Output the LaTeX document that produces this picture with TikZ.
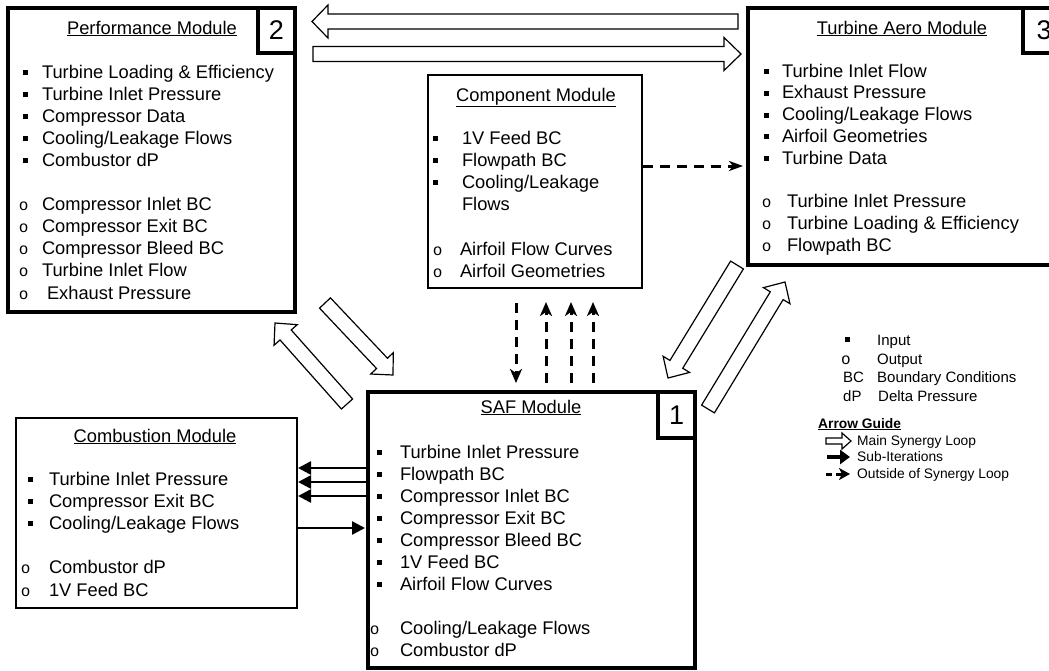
\documentclass[tikz,border=0pt]{standalone}
\usepackage{fontspec}
\setmainfont{Liberation Sans}
\newfontfamily\monof{Liberation Mono}
\usetikzlibrary{arrows.meta,calc}

\newcommand\Bu[1]{\llap{\rule[3pt]{5pt}{5pt}\hspace{#1pt}}}
\newcommand\Ci[1]{\llap{{\monof\fontsize{16pt}{16pt}\selectfont o}\hspace{#1pt}}}
% hollow block arrow: start, end, half shaft, half head, head length
\newcommand\fatarr[5]{%
  \draw[fat] let \p1=(#1), \p2=(#2), \n1={atan2(\y2-\y1,\x2-\x1)}, \n2={veclen(\x2-\x1,\y2-\y1)} in
    ($(\p1)+(\n1+90:#3pt)$)
    -- ($(\p1)+(\n1:\n2-#5pt)+(\n1+90:#3pt)$)
    -- ($(\p1)+(\n1:\n2-#5pt)+(\n1+90:#4pt)$)
    -- (\p2)
    -- ($(\p1)+(\n1:\n2-#5pt)+(\n1-90:#4pt)$)
    -- ($(\p1)+(\n1:\n2-#5pt)+(\n1-90:#3pt)$)
    -- ($(\p1)+(\n1-90:#3pt)$) -- cycle;}

\begin{document}
\begin{tikzpicture}[x=1pt,y=-1pt,
  thickbox/.style={draw, line width=4pt, inner sep=0pt, outer sep=0pt, anchor=north west},
  thinbox/.style={draw, line width=1.3pt, inner sep=0pt, outer sep=0pt, anchor=north west},
  numbox/.style={draw, line width=4pt, inner sep=0pt, outer sep=0pt, minimum width=37pt, minimum height=45pt, anchor=north west, font=\fontsize{27pt}{30pt}\selectfont},
  title/.style={anchor=base, inner sep=0pt, font=\fontsize{18.3pt}{22pt}\selectfont},
  lst/.style={anchor=base west, inner sep=0pt, outer sep=0pt},
  fat/.style={draw, fill=white, line width=1.2pt, line join=miter},
  sub/.style={line width=2.5pt, -{Triangle[length=13pt,width=13pt]}},
  outside/.style={line width=3pt, dash pattern=on 10pt off 7pt, -{Stealth[length=14pt,width=12pt,inset=4pt]}},
  leg/.style={anchor=base west, inner sep=0pt, font=\fontsize{15pt}{18pt}\selectfont},
  guide/.style={anchor=base west, inner sep=0pt, font=\fontsize{13.8pt}{16pt}\selectfont},
]
\useasboundingbox (0,0) rectangle (1049,670);
\clip (0,0) rectangle (1049,670);

% ---------- Performance Module ----------
\node[thickbox, minimum width=287pt, minimum height=304pt] (perf) at (8,8) {};
\node[numbox] (n2) at (258,8) {2};
\node[title] (perft) at (152,34) {\underline{Performance Module}};
\node[lst] (perfl) at (42,78) {\fontsize{18.3pt}{22.1pt}\selectfont
\begin{tabular}[t]{@{}l@{}}
\Bu{14}Turbine Loading \& Efficiency\\
\Bu{14}Turbine Inlet Pressure\\
\Bu{14}Compressor Data\\
\Bu{14}Cooling/Leakage Flows\\
\Bu{14}Combustor dP\\
\\
\Ci{13.5}Compressor Inlet BC\\
\Ci{13.5}Compressor Exit BC\\
\Ci{13.5}Compressor Bleed BC\\
\Ci{13.5}Turbine Inlet Flow\\
\Ci{13.5}\hspace{5pt}Exhaust Pressure
\end{tabular}};

% ---------- Turbine Aero Module ----------
\node[thickbox, minimum width=317pt, minimum height=257pt] (aero) at (748,8) {};
\node[numbox, minimum width=42pt] (n3) at (1023,8) {3};
\node[title] (aerot) at (902,34) {\underline{Turbine Aero Module}};
\node[lst] (aerol) at (782,77) {\fontsize{18.3pt}{21.8pt}\selectfont
\begin{tabular}[t]{@{}l@{}}
\Bu{13}Turbine Inlet Flow\\
\Bu{13}Exhaust Pressure\\
\Bu{13}Cooling/Leakage Flows\\
\Bu{13}Airfoil Geometries\\
\Bu{13}Turbine Data\\
\\
\Ci{10.6}\hspace{5pt}Turbine Inlet Pressure\\
\Ci{10.6}\hspace{5pt}Turbine Loading \& Efficiency\\
\Ci{10.6}\hspace{5pt}Flowpath BC
\end{tabular}};

% ---------- Component Module ----------
\node[thinbox, minimum width=214pt, minimum height=213pt] (comp) at (428,75) {};
\node[title] (compt) at (536,101) {\underline{Component Module}};
\node[lst] (compl) at (462,144) {\fontsize{18.3pt}{22.2pt}\selectfont
\begin{tabular}[t]{@{}l@{}}
\Bu{24}1V Feed BC\\
\Bu{24}Flowpath BC\\
\Bu{24}Cooling/Leakage\\
Flows\\
\\
\Ci{19.6}\hspace{-2pt}Airfoil Flow Curves\\
\Ci{19.6}\hspace{-2pt}Airfoil Geometries
\end{tabular}};

% ---------- Combustion Module ----------
\node[thinbox, minimum width=281pt, minimum height=190pt] (comb) at (16,418) {};
\node[title] (combt) at (155,442) {\underline{Combustion Module}};
\node[lst] (combl) at (49,485) {\fontsize{18.3pt}{22.2pt}\selectfont
\begin{tabular}[t]{@{}l@{}}
\Bu{16}Turbine Inlet Pressure\\
\Bu{16}Compressor Exit BC\\
\Bu{16}Cooling/Leakage Flows\\
\\
\Ci{18.6}Combustor dP\\
\Ci{18.6}1V Feed BC
\end{tabular}};

% ---------- SAF Module ----------
\node[thickbox, minimum width=327pt, minimum height=276pt] (saf) at (368,392) {};
\node[numbox, minimum height=46pt] (n1) at (658,392) {1};
\node[title] (saft) at (531,413) {\underline{SAF Module}};
\node[lst] (safl) at (400,458) {\fontsize{18.3pt}{22pt}\selectfont
\begin{tabular}[t]{@{}l@{}}
\Bu{18}Turbine Inlet Pressure\\
\Bu{18}Flowpath BC\\
\Bu{18}Compressor Inlet BC\\
\Bu{18}Compressor Exit BC\\
\Bu{18}Compressor Bleed BC\\
\Bu{18}1V Feed BC\\
\Bu{18}Airfoil Flow Curves\\
\\
\Ci{20.6}Cooling/Leakage Flows\\
\Ci{20.6}Combustor dP
\end{tabular}};

% ---------- Main synergy loop (hollow arrows) ----------
\coordinate (t1s) at (738,21.5);  \coordinate (t1e) at (312,21.5);
\coordinate (t2s) at (313,54);    \coordinate (t2e) at (741,54);
\coordinate (a3s) at (325,303);   \coordinate (a3e) at (393,375);
\coordinate (a4s) at (347,404);   \coordinate (a4e) at (275,323);
\coordinate (a5s) at (737,265);   \coordinate (a5e) at (668,378);
\coordinate (a6s) at (708,409);   \coordinate (a6e) at (785,282);
\fatarr{t1s}{t1e}{7.5}{16.5}{16}
\fatarr{t2s}{t2e}{7.5}{16.5}{17}
\fatarr{a3s}{a3e}{7.5}{15.5}{16}
\fatarr{a4s}{a4e}{7.5}{15.5}{16}
\fatarr{a5s}{a5e}{7.5}{15.5}{16}
\fatarr{a6s}{a6e}{7.5}{15.5}{16}

% ---------- Sub-iterations (solid arrows) ----------
\coordinate (s1s) at (366,468); \coordinate (s1e) at (298,468);
\coordinate (s2s) at (366,482); \coordinate (s2e) at (298,482);
\coordinate (s3s) at (366,496); \coordinate (s3e) at (298,496);
\coordinate (s4s) at (297,528); \coordinate (s4e) at (365,528);
\draw[sub] (s1s) -- (s1e);
\draw[sub] (s2s) -- (s2e);
\draw[sub] (s3s) -- (s3e);
\draw[sub] (s4s) -- (s4e);

% ---------- Outside of synergy loop (dashed arrows) ----------
\coordinate (d1s) at (516,303); \coordinate (d1e) at (516,383);
\coordinate (d2s) at (546,383); \coordinate (d2e) at (546,302);
\coordinate (d3s) at (571,383); \coordinate (d3e) at (571,302);
\coordinate (d4s) at (593,383); \coordinate (d4e) at (593,302);
\coordinate (d5s) at (643,166); \coordinate (d5e) at (743,166);
\draw[outside] (d1s) -- (d1e);
\draw[outside] (d2s) -- (d2e);
\draw[outside] (d3s) -- (d3e);
\draw[outside] (d4s) -- (d4e);
\draw[outside, -{Stealth[length=14pt,width=10pt,inset=4pt]}] (d5s) -- (d5e);

% ---------- Legend ----------
\node[leg] (lin) at (877,345) {\Bu{27}Input};
\node[leg] (lout) at (877,364) {\Ci{26.6}Output};
\node[leg] (lbc) at (843,382) {BC};
\node[leg] (lbct) at (877,382) {Boundary Conditions};
\node[leg] (ldp) at (843,401) {dP};
\node[leg] (ldpt) at (878,401) {Delta Pressure};
\node[guide] (ag) at (818,428) {\bfseries\underline{Arrow Guide}};
\node[guide] (g1) at (857,445) {Main Synergy Loop};
\node[guide] (g2) at (857,461) {Sub-Iterations};
\node[guide] (g3) at (857,478) {Outside of Synergy Loop};
\coordinate (lg1s) at (826,441); \coordinate (lg1e) at (851,441);
\coordinate (lg2s) at (827,457); \coordinate (lg2e) at (850,457);
\coordinate (lg3s) at (826,474); \coordinate (lg3e) at (850,474);
\fatarr{lg1s}{lg1e}{3}{8}{9}
\draw[line width=3.5pt, -{Triangle[length=10pt,width=14pt]}] (lg2s) -- (lg2e);
\draw[line width=3pt, dash pattern=on 6pt off 4pt, -{Stealth[length=11pt,width=12pt,inset=3pt]}] (lg3s) -- (lg3e);
\end{tikzpicture}
\end{document}
